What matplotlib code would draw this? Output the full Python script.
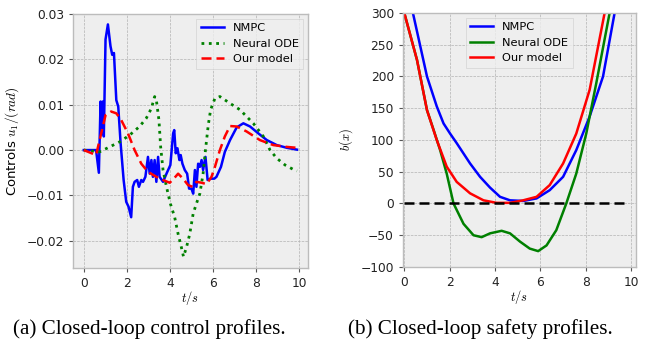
import numpy as np
import matplotlib
matplotlib.use("Agg")
import matplotlib.pyplot as plt

plt.style.use("bmh")

# (a) closed-loop control profiles
tNmpc = [0, 0.57, 0.70, 0.78, 0.84, 0.88, 0.93, 1.01, 1.12, 1.24, 1.32, 1.40, 1.51, 1.60, 1.71,
         1.85, 1.97, 2.08, 2.20, 2.28, 2.36, 2.48, 2.56, 2.67, 2.75, 2.86, 2.98, 3.06, 3.14,
         3.21, 3.29, 3.37, 3.45, 3.52, 3.68, 3.84, 4.02, 4.15, 4.20, 4.27, 4.35, 4.44, 4.50,
         4.58, 4.69, 4.80, 4.89, 5.00, 5.08, 5.16, 5.23, 5.31, 5.39, 5.47, 5.54, 5.65, 5.75,
         5.90, 6.06, 6.16, 6.37, 6.55, 6.79, 7.10, 7.41, 7.72, 8.10, 8.50, 8.96, 9.43, 9.90]
uNmpc = [0, 0, -0.005, 0.0107, 0.0037, 0.0107, 0.003, 0.0244, 0.0277, 0.0229, 0.021, 0.0214,
         0.011, 0.0096, 0.0015, -0.0066, -0.0114, -0.0125, -0.0148, -0.0081, -0.007, -0.0066,
         -0.0081, -0.0066, -0.007, -0.0059, -0.0015, -0.0052, -0.0022, -0.0059, -0.0022,
         -0.007, -0.0015, -0.0059, -0.007, -0.0052, -0.0033, 0.0037, 0.0044, -0.0007, 0.0004,
         -0.0022, -0.0011, -0.003, -0.0044, -0.0052, -0.0085, -0.0085, -0.0096, -0.0044,
         -0.0081, -0.003, -0.0037, -0.0022, -0.0044, -0.0015, -0.0066, -0.0063, -0.0063,
         -0.0059, -0.0037, -0.0004, 0.0022, 0.005, 0.0059, 0.0052, 0.0037, 0.0022, 0.0011,
         0.0005, 0.0001]

tOde = [0, 0.73, 1.20, 1.66, 2.13, 2.59, 2.90, 3.14, 3.29, 3.37, 3.49, 3.57, 3.68, 3.84, 4.02,
        4.22, 4.38, 4.53, 4.63, 4.77, 4.92, 5.08, 5.23, 5.39, 5.54, 5.65, 5.78, 5.89, 6.09,
        6.32, 6.79, 7.25, 7.87, 8.34, 8.65, 8.96, 9.35, 9.74, 9.90]
uOde = [0, -0.0004, 0.0007, 0.0018, 0.0033, 0.0052, 0.007, 0.0092, 0.0118, 0.011, 0.0066,
        0.0007, -0.0044, -0.0081, -0.0118, -0.0148, -0.0185, -0.0214, -0.0235, -0.0214,
        -0.0185, -0.014, -0.0118, -0.0096, -0.0052, 0.0, 0.0055, 0.0089, 0.0114, 0.0118,
        0.0103, 0.0089, 0.0059, 0.003, 0.0, -0.0018, -0.0033, -0.0043, -0.0046]

tOurs = [0, 0.57, 0.81, 1.01, 1.27, 1.51, 1.74, 2.05, 2.36, 2.67, 2.98, 3.37, 3.68, 3.99, 4.18,
         4.38, 4.61, 4.84, 5.05, 5.23, 5.47, 5.70, 5.93, 6.09, 6.32, 6.55, 6.79, 7.10, 7.56,
         8.18, 8.80, 9.43, 9.90]
uOurs = [0, -0.0011, 0.0037, 0.0077, 0.0085, 0.0081, 0.0066, 0.0037, 0.0, -0.003, -0.0048,
         -0.0059, -0.0066, -0.0072, -0.0063, -0.0052, -0.0063, -0.0077, -0.0081, -0.007,
         -0.0072, -0.0075, -0.0059, -0.0037, 0.0, 0.003, 0.0053, 0.0052, 0.0041, 0.0022,
         0.0011, 0.0007, 0.0005]

# (b) closed-loop safety profiles b(x)
tSafe = [0, 0.38, 1.00, 1.43, 1.73, 2.02, 2.31, 2.90, 3.34, 3.78, 4.22, 4.66, 5.24, 5.83, 6.41,
         7.00, 7.58, 8.17, 8.76, 9.27, 9.90]
bNmpc = [365, 300, 200, 153, 126, 110, 95, 63, 42, 25, 10.5, 5, 4, 8, 21, 42, 84, 137, 200,
         300, 420]

tOursB = [0, 0.56, 1.00, 1.43, 1.87, 2.31, 2.90, 3.49, 4.07, 4.66, 5.24, 5.83, 6.41, 7.00,
          7.58, 8.17, 8.83, 9.90]
bOurs = [300, 226, 147, 100, 58, 34, 16, 5, 1, 1, 5, 10.5, 29, 63, 110, 179, 300, 520]

tOdeB = [0, 0.56, 1.00, 1.30, 1.58, 1.87, 2.17, 2.61, 3.05, 3.41, 3.78, 4.29, 4.66, 5.10, 5.53,
         5.90, 6.27, 6.70, 7.14, 7.58, 8.02, 8.46, 9.05, 9.90]
bOde = [300, 226, 147, 115, 84, 47, 0, -32, -50, -53, -47, -43, -47, -60, -71, -75, -66, -42,
        0, 47, 110, 189, 300, 480]

tZero = [0, 9.9]
bZero = [0, 0]


def styleAxes(ax):
    ax.set_facecolor("#eeeeee")
    for s in ax.spines.values():
        s.set_color("#bcbcbc")
        s.set_linewidth(1.0)
    ax.grid(True, color="#b2b2b2", ls="--", lw=0.5)
    ax.tick_params(labelsize=8.8, color="#555555", length=3, direction="out", labelcolor="#222222")


fig = plt.figure(figsize=(6.52, 3.41), dpi=100)
fig.patch.set_facecolor("white")

ax1 = fig.add_axes([0.112, 0.214, 0.360, 0.745])
styleAxes(ax1)
ax1.plot(tNmpc, uNmpc, "-", color="blue", lw=1.8, label="NMPC")
ax1.plot(tOde, uOde, ":", color="green", lw=2.0, label="Neural ODE")
ax1.plot(tOurs, uOurs, "--", color="red", lw=1.8, label="Our model", dashes=(4, 2))
ax1.set_ylim(-0.026, 0.030)
ax1.set_xlim(-0.5, 10.4)
ax1.set_xticks([0, 2, 4, 6, 8, 10])
ax1.set_yticks([-0.02, -0.01, 0.0, 0.01, 0.02, 0.03])
ax1.set_yticklabels(["\u22120.02", "\u22120.01", "0.00", "0.01", "0.02", "0.03"])
ax1.set_xlabel("$t/s$", fontsize=9, labelpad=-1)
ax1.set_ylabel("Controls $u_1/(rad)$", fontsize=9.5)
leg1 = ax1.legend(loc="upper right", fontsize=8.2, frameon=True, fancybox=False,
                  handlelength=2.0, borderaxespad=0.4)
leg1.get_frame().set_edgecolor("#cccccc")
leg1.get_frame().set_facecolor("#eeeeee")

ax2 = fig.add_axes([0.618, 0.217, 0.357, 0.745])
styleAxes(ax2)
ax2.plot(tSafe, bNmpc, "-", color="blue", lw=1.8, label="NMPC")
ax2.plot(tOdeB, bOde, "-", color="green", lw=1.8, label="Neural ODE")
ax2.plot(tOursB, bOurs, "-", color="red", lw=1.8, label="Our model")
ax2.plot(tZero, bZero, "--", color="black", lw=1.8, dashes=(4, 2))
ax2.set_ylim(-100, 300)
ax2.set_xlim(-0.06, 10.2)
ax2.set_xticks([0, 2, 4, 6, 8, 10])
ax2.set_yticks([-100, -50, 0, 50, 100, 150, 200, 250, 300])
ax2.set_yticklabels(["\u2212100", "\u221250", "0", "50", "100", "150", "200", "250", "300"])
ax2.set_xlabel("$t/s$", fontsize=9, labelpad=-1)
ax2.set_ylabel("$b(x)$", fontsize=9)
leg2 = ax2.legend(loc="upper center", fontsize=8.2, frameon=True, fancybox=False,
                  handlelength=2.0, borderaxespad=0.4)
leg2.get_frame().set_edgecolor("#cccccc")
leg2.get_frame().set_facecolor("#eeeeee")

fig.text(0.02, 0.036, "(a) Closed-loop control profiles.", fontsize=15.2, va="center",
         family="Liberation Serif")
fig.text(0.534, 0.036, "(b) Closed-loop safety profiles.", fontsize=15.2, va="center",
         family="Liberation Serif")

fig.savefig("out.png", dpi=100)
